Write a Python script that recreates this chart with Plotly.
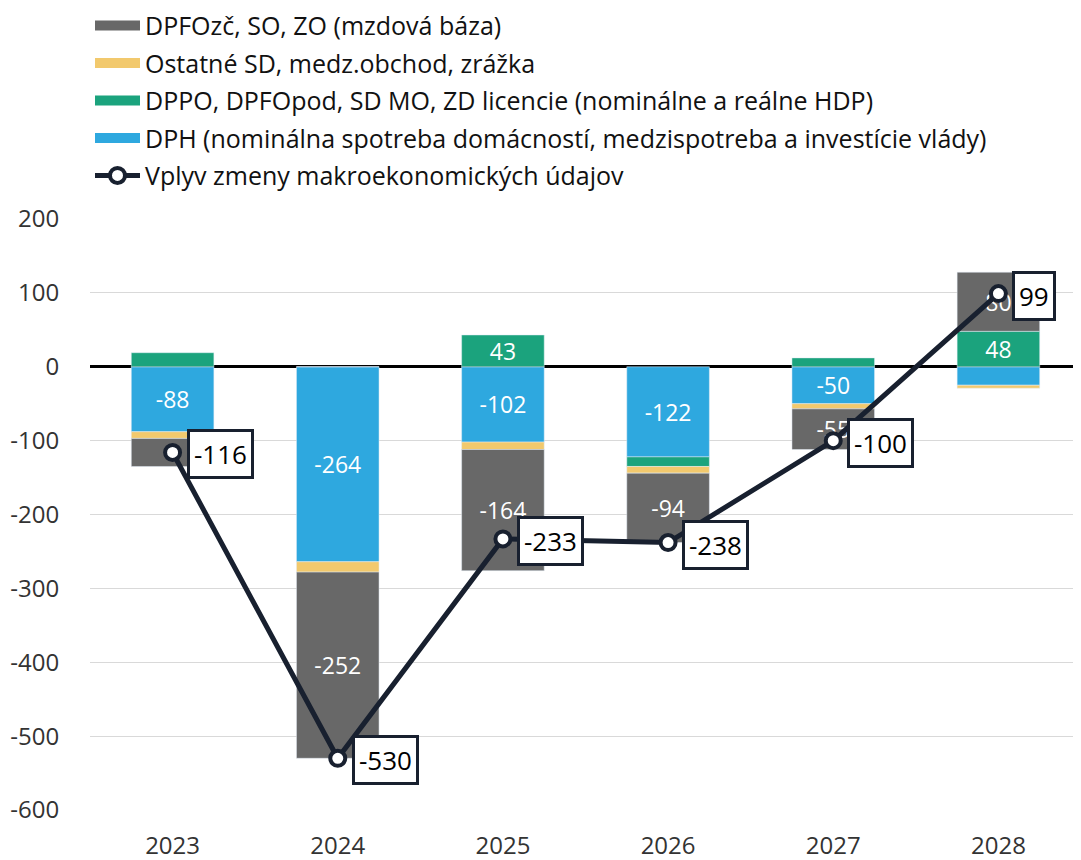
import plotly.graph_objects as go

years = [2023, 2024, 2025, 2026, 2027, 2028]
dph = [-88, -264, -102, -122, -50, -25]
dppo = [19, 0, 43, -13, 12, 48]
ostatne = [-9, -14, -10, -9, -7, -4]
dpfo = [-38, -252, -164, -94, -55, 80]
total = [-116, -530, -233, -238, -100, 99]
ytickvals = [200, 100, 0, -100, -200, -300, -400, -500, -600]

names = {
    "dpfo": "DPFOzč, SO, ZO (mzdová báza)",
    "ost": "Ostatné SD, medz.obchod, zrážka",
    "dppo": "DPPO, DPFOpod, SD MO, ZD licencie (nominálne a reálne HDP)",
    "dph": "DPH (nominálna spotreba domácností, medzispotreba a investície vlády)",
    "line": "Vplyv zmeny makroekonomických údajov",
}
colors = {"dpfo": "#686868", "ost": "#F2C96D", "dppo": "#1BA37D", "dph": "#2EA8DF", "line": "#18202F"}
label_min = 40

FONT = "Open Sans"

def labels(vals):
    return [str(v) if abs(v) >= label_min else "" for v in vals]

fig = go.Figure()
for key, vals in [("dph", dph), ("dppo", dppo), ("ost", ostatne), ("dpfo", dpfo)]:
    fig.add_trace(go.Bar(
        x=years, y=vals, marker_color=colors[key], width=0.5,
        text=labels(vals), textposition="inside", insidetextanchor="middle",
        textangle=0, constraintext="none",
        textfont=dict(color="white", size=23, family=FONT),
        showlegend=False, hoverinfo="skip",
    ))

fig.add_trace(go.Scatter(
    x=years, y=total, mode="lines+markers", name=names["line"],
    line=dict(color=colors["line"], width=5),
    marker=dict(size=15, color="white", line=dict(color=colors["line"], width=4)),
    legendrank=5, legendgroup="line",
))

for rank, key in enumerate(["dpfo", "ost", "dppo", "dph"], start=1):
    fig.add_trace(go.Scatter(
        x=[None], y=[None], mode="lines", name=names[key],
        line=dict(color=colors[key], width=15), legendrank=rank, legendgroup=key,
    ))

for x, v in zip(years, total):
    fig.add_annotation(
        x=x, y=v, text=str(v), showarrow=False, xanchor="left", yanchor="middle",
        xshift=14, yshift=-2, bgcolor="white", bordercolor=colors["line"],
        borderwidth=3, borderpad=4, font=dict(size=26, color="black", family=FONT),
    )

# page body has an 8px margin: compensate so the figure fills the 1081x860 window
fig.update_layout(
    width=1073, height=852,
    margin=dict(l=82, r=0, t=211, b=50, autoexpand=False),
    plot_bgcolor="white", paper_bgcolor="white",
    barmode="relative",
    font=dict(family=FONT, size=24, color="#222"),
    legend=dict(x=0, xanchor="left", y=1.366, yanchor="top", yref="paper",
                font=dict(size=25, family=FONT, color="#111"),
                itemwidth=45, tracegroupgap=2, bgcolor="rgba(0,0,0,0)"),
    xaxis=dict(range=[years[0] - 0.5, years[-1] + 0.5], tickvals=years,
               ticktext=[str(y) for y in years], ticks="outside", ticklen=14,
               tickcolor="rgba(0,0,0,0)", automargin=False,
               showgrid=False, zeroline=False, tickfont=dict(size=24, color="#333")),
    yaxis=dict(
        range=[-600, 200], tickvals=ytickvals, ticktext=[str(v) for v in ytickvals],
        ticks="outside", ticklen=25, tickcolor="rgba(0,0,0,0)", automargin=False,
        showgrid=True, gridcolor="#D9D9D9", gridwidth=1,
        zeroline=True, zerolinecolor="black", zerolinewidth=2.5,
        tickfont=dict(size=24, color="#333"),
    ),
)

fig.write_html("out.html")
